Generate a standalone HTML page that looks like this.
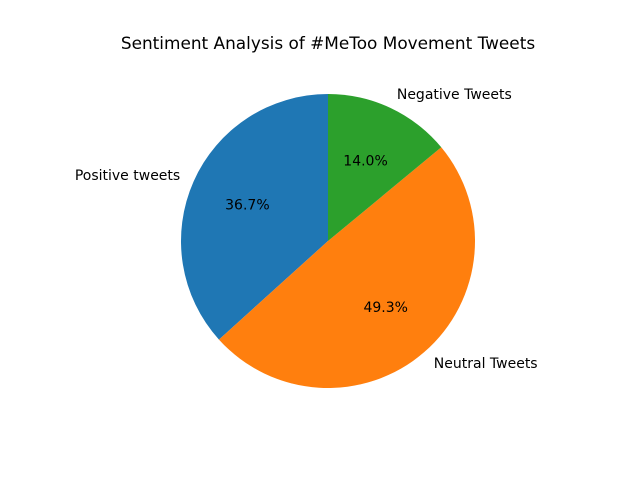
<!DOCTYPE html>
<html><head><meta charset="utf-8"><style>
body{margin:0;background:#fff;}
svg{display:block;font-family:"DejaVu Sans","Liberation Sans",sans-serif;}
</style></head><body>
<svg id="chart" width="640" height="478" viewBox="0 0 640 478">
<text x="328" y="49" font-size="16.9" text-anchor="middle">Sentiment Analysis of #MeToo Movement Tweets</text>
</svg>
<script>
const categories = ["Positive tweets", "Neutral Tweets", "Negative Tweets"];
const values = [36.7, 49.3, 14.0];
const colors = ["#1f77b4", "#ff7f0e", "#2ca02c"];
const svg = document.getElementById('chart');
const NS = 'http://www.w3.org/2000/svg';
const cx = 328, cy = 241, r = 147;
const total = values.reduce((a, b) => a + b, 0);
let a0 = 90;
function pt(deg, rr) { const t = deg * Math.PI / 180; return [cx + rr * Math.cos(t), cy - rr * Math.sin(t)]; }
values.forEach((v, i) => {
  const sweep = v / total * 360;
  const a1 = a0 + sweep;
  const p0 = pt(a0, r), p1 = pt(a1, r);
  const large = sweep > 180 ? 1 : 0;
  const path = document.createElementNS(NS, 'path');
  path.setAttribute('d', `M${cx},${cy} L${p0[0]},${p0[1]} A${r},${r} 0 ${large} 0 ${p1[0]},${p1[1]} Z`);
  path.setAttribute('fill', colors[i]);
  
  
  svg.appendChild(path);
  const mid = (a0 + a1) / 2;
  const lp = pt(mid, r * 1.1);
  const lab = document.createElementNS(NS, 'text');
  lab.setAttribute('x', lp[0]); lab.setAttribute('y', lp[1] + 4.5);
  lab.setAttribute('font-size', '14');
  lab.setAttribute('text-anchor', lp[0] < cx ? 'end' : 'start');
  lab.textContent = categories[i];
  
  
  svg.appendChild(lab);
  const pp = pt(mid, r * 0.6);
  const pct = document.createElementNS(NS, 'text');
  pct.setAttribute('x', pp[0]); pct.setAttribute('y', pp[1] + 4.5);
  pct.setAttribute('font-size', '14');
  pct.setAttribute('text-anchor', 'middle');
  pct.textContent = (v / total * 100).toFixed(1) + '%';
  
  
  svg.appendChild(pct);
  a0 = a1;
});
</script>
</body></html>
